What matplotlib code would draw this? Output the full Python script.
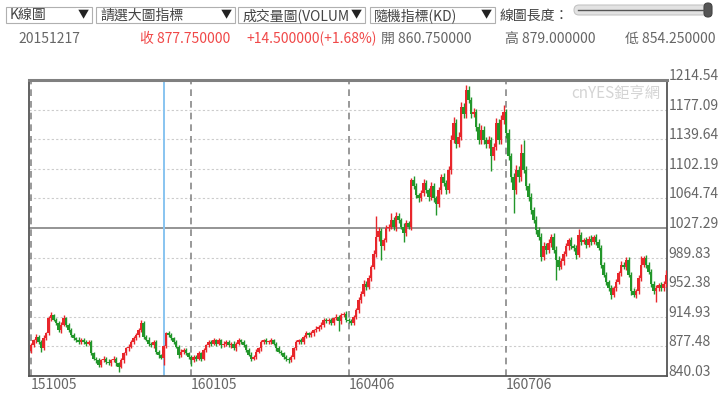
import numpy as np
import matplotlib.pyplot as plt
from matplotlib.patches import Rectangle, FancyBboxPatch

plt.rcParams['font.family'] = ['Noto Sans CJK TC', 'DejaVu Sans']

# daily closes (open = previous close)
first_open = 872
closes = [
    879, 885, 890, 883, 875, 888, 894, 913, 917, 911, 907, 898, 905, 913, 905,
    898, 892, 888, 886, 883, 886, 883, 881, 883, 869, 862, 860, 854, 860, 862,
    858, 856, 860, 862, 856, 852, 860, 869, 875, 877, 883, 888, 892, 898, 907,
    890, 886, 881, 879, 883, 870, 866, 863.25, 877.75, 894, 892, 888, 883, 877, 866,
    871, 873, 869, 864, 860, 864, 862, 869, 862, 873, 879, 883, 881, 885, 881,
    885, 879, 881, 883, 879, 881, 875, 881, 885, 883, 879, 873, 867, 862, 864,
    871, 875, 883, 885, 883, 883, 885, 881, 875, 871, 869, 864, 862, 860, 864,
    875, 883, 885, 883, 890, 894, 892, 894, 898, 900, 902, 905, 911, 909, 911,
    907, 913, 915, 909, 917, 919, 911, 909, 907, 915, 923, 936, 944, 957, 953,
    964, 978, 995, 1016, 1023, 1004, 1012, 1027, 1029, 1037, 1029, 1042, 1037, 1029, 1021,
    1033, 1029, 1088, 1080, 1069, 1065, 1071, 1084, 1075, 1067, 1080, 1065, 1058, 1075, 1092,
    1084, 1075, 1101, 1139, 1160, 1134, 1143, 1181, 1172, 1202, 1189, 1172, 1174, 1155, 1139,
    1151, 1139, 1134, 1139, 1118, 1130, 1160, 1139, 1164, 1174, 1147, 1118, 1092, 1075, 1101,
    1092, 1122, 1101, 1080, 1067, 1050, 1037, 1025, 1016, 991, 1004, 1000, 1008, 1016, 1000,
    987, 978, 985, 995, 1004, 1012, 1004, 1002, 993, 1018, 1010, 1012, 1006, 1014, 1010,
    1016, 1010, 1002, 981, 968, 959, 951, 943, 951, 959, 970, 981, 978, 987, 968,
    947, 943, 947, 964, 981, 989, 981, 972, 957, 947, 951, 955, 951, 957, 968,
]
# upper / lower shadow lengths (price units)
upper = [
    3, 2, 3, 2, 2, 4, 2, 3, 4, 2, 3, 2, 3, 4, 2,
    2, 3, 2, 2, 3, 2, 2, 3, 2, 3, 2, 2, 3, 2, 3,
    2, 3, 2, 3, 2, 2, 3, 2, 2, 3, 2, 3, 2, 3, 4,
    3, 2, 3, 2, 3, 2, 3, 2, 1.25, 2, 3, 2, 2, 3, 2,
    3, 2, 3, 2, 2, 3, 2, 3, 2, 3, 2, 3, 2, 3, 2,
    3, 2, 3, 2, 3, 2, 3, 2, 3, 2, 3, 2, 2, 3, 2,
    3, 2, 3, 2, 3, 2, 3, 2, 2, 3, 2, 2, 3, 2, 3,
    2, 3, 2, 3, 2, 3, 2, 3, 2, 3, 2, 3, 2, 3, 2,
    3, 2, 3, 2, 3, 2, 3, 2, 3, 2, 3, 4, 3, 4, 3,
    4, 3, 4, 26, 5, 4, 3, 4, 3, 9, 4, 5, 4, 3, 4,
    4, 3, 2, 5, 4, 3, 4, 5, 4, 3, 5, 4, 3, 4, 4,
    5, 4, 5, 6, 8, 5, 6, 6, 5, 6, 5, 4, 5, 4, 5,
    6, 5, 4, 5, 4, 5, 6, 5, 6, 9, 4, 5, 4, 5, 6,
    5, 12, 17, 5, 4, 5, 4, 6, 4, 5, 6, 4, 5, 4, 5,
    4, 5, 4, 3, 4, 3, 4, 3, 4, 8, 4, 3, 4, 3, 4,
    3, 4, 3, 4, 3, 4, 3, 4, 3, 4, 3, 4, 3, 3, 4,
    3, 4, 3, 4, 11, 3, 4, 3, 4, 3, 4, 3, 4, 3, 6,
]
lower = [
    3, 2, 3, 2, 4, 2, 3, 2, 3, 2, 3, 2, 3, 2, 3,
    2, 3, 2, 3, 2, 3, 2, 3, 2, 3, 2, 3, 2, 3, 2,
    3, 2, 3, 2, 3, 7, 2, 3, 2, 3, 2, 3, 2, 3, 2,
    3, 2, 3, 2, 3, 2, 3, 2, 9, 2, 3, 2, 3, 2, 3,
    2, 3, 2, 3, 7, 2, 3, 2, 3, 2, 3, 2, 3, 2, 3,
    2, 3, 2, 3, 2, 3, 2, 3, 2, 3, 2, 3, 2, 3, 2,
    3, 2, 3, 2, 3, 2, 3, 2, 3, 2, 3, 2, 3, 3, 2,
    3, 2, 3, 2, 3, 2, 3, 2, 3, 2, 3, 2, 3, 2, 3,
    2, 3, 2, 12, 3, 2, 3, 2, 3, 2, 3, 3, 4, 3, 4,
    3, 4, 3, 4, 5, 17, 4, 3, 4, 3, 4, 5, 4, 3, 11,
    4, 3, 4, 3, 4, 5, 4, 3, 4, 5, 4, 5, 14, 4, 5,
    4, 5, 4, 5, 4, 5, 4, 5, 6, 5, 4, 5, 4, 5, 6,
    5, 6, 5, 6, 19, 5, 4, 5, 6, 5, 6, 5, 6, 29, 5,
    6, 5, 4, 5, 6, 5, 4, 5, 4, 5, 4, 5, 4, 5, 4,
    26, 4, 3, 4, 3, 4, 3, 4, 5, 3, 4, 3, 4, 3, 4,
    3, 4, 3, 4, 3, 4, 3, 5.5, 3, 4, 3, 4, 3, 4, 3,
    4, 3, 4, 3, 4, 3, 4, 3, 4, 3, 13, 3, 4, 3, 4,
]

y_ticks = [840.03, 877.48, 914.93, 952.38, 989.83, 1027.29, 1064.74, 1102.19, 1139.64, 1177.09, 1214.54]
ref_level = 1027.29
date_pos = [0, 64, 127, 190]
date_labels = ['151005', '160105', '160406', '160706']
cursor_pos = 53

closes = np.array(closes, dtype=float)
opens = np.r_[first_open, closes[:-1]]
highs = np.maximum(opens, closes) + np.array(upper)
lows = np.minimum(opens, closes) - np.array(lower)
x = np.arange(len(closes))

RED = '#e8262b'
GREEN = '#22962a'
GRAY = '#666666'

fig = plt.figure(figsize=(7.2, 3.95), dpi=100)

# header in pixel coords
hdr = fig.add_axes([0, 0, 1, 1])
hdr.set_xlim(0, 720)
hdr.set_ylim(395, 0)
hdr.set_axis_off()

boxes = [(6, 92, 'K線圖'), (96, 235, '請選大圖指標'), (238, 365, '成交量圖(VOLUM'), (370, 495, '隨機指標(KD)')]
for x0, x1, txt in boxes:
    hdr.add_patch(Rectangle((x0, 7), x1 - x0, 16, fc='white', ec='#b0b0b0', lw=0.8))
    hdr.text(x0 + 4, 15.5, txt, fontsize=10, color='#444444', va='center', ha='left')
    hdr.add_patch(Rectangle((x1 - 16, 8), 15, 14, fc='white', ec='none'))
    hdr.text(x1 - 9, 15.5, '▼', fontsize=8, color='#222222', va='center', ha='center')
hdr.text(500, 15.5, '線圖長度：', fontsize=10, color='#444444', va='center', ha='left')
hdr.add_patch(FancyBboxPatch((574, 5), 134, 10, boxstyle='round,pad=0,rounding_size=5',
                             fc='#e2e2e2', ec='#c4c4c4', lw=0.8))
hdr.plot([578, 704], [10, 10], color='#555555', lw=1)
hdr.add_patch(FancyBboxPatch((704, 3), 8, 14, boxstyle='round,pad=0,rounding_size=4',
                             fc='#555555', ec='#444444', lw=0.8))

hdr.text(18, 39, '20151217', fontsize=10, color=GRAY, va='center')
hdr.text(140, 39, '收 877.750000', fontsize=10, color='#f04848', va='center')
hdr.text(246, 39, '+14.500000(+1.68%)', fontsize=10, color='#f04848', va='center')
hdr.text(381, 39, '開 860.750000', fontsize=10, color=GRAY, va='center')
hdr.text(505, 39, '高 879.000000', fontsize=10, color=GRAY, va='center')
hdr.text(625, 39, '低 854.250000', fontsize=10, color=GRAY, va='center')

# price chart
ax = fig.add_axes([29 / 720, 19 / 395, 637.5 / 720, 296 / 395])
ax.set_xlim(-0.8, 254.2)
ax.set_ylim(y_ticks[0], y_ticks[-1])

for v in y_ticks[1:-1]:
    if v == ref_level:
        ax.axhline(v, color='#777777', lw=1.1, zorder=1)
    else:
        ax.axhline(v, color='#cccccc', lw=0.8, ls=(0, (2, 2)), zorder=1)
for p in date_pos:
    ax.axvline(p, color='#888888', lw=1.2, ls=(0, (4, 3)), zorder=1)
ax.axvline(cursor_pos, color='#88c4f0', lw=1.4, zorder=1)

up = closes >= opens
cols = np.where(up, RED, GREEN)
ax.vlines(x, lows, highs, colors=cols, lw=1.0, zorder=3)
body = np.maximum(np.abs(closes - opens), 1.2)
ax.bar(x, body, bottom=np.minimum(opens, closes), width=0.9, color=cols, lw=0, zorder=3)

ax.set_xticks([])
ax.set_yticks([])
for s in ax.spines.values():
    s.set_color('#555555')
    s.set_linewidth(1.3)
ax.spines['top'].set_color('#808080')
ax.spines['top'].set_linewidth(2.2)

for v in y_ticks:
    ax.annotate(f'{v:.2f}', xy=(1, v), xycoords=('axes fraction', 'data'), xytext=(2, 4),
                textcoords='offset pixels', ha='left', va='center', fontsize=10, color=GRAY,
                annotation_clip=False)
for p, lab in zip(date_pos, date_labels):
    ax.annotate(lab, xy=(p, 0), xycoords=('data', 'axes fraction'), xytext=(0, -2),
                textcoords='offset pixels', ha='left', va='top', fontsize=10, color=GRAY,
                annotation_clip=False)

ax.text(0.99, 0.955, 'cnYES鉅亨網', transform=ax.transAxes, ha='right', va='center',
        fontsize=11, color='#d4d4d4')

fig.savefig('out.png', dpi=100)
